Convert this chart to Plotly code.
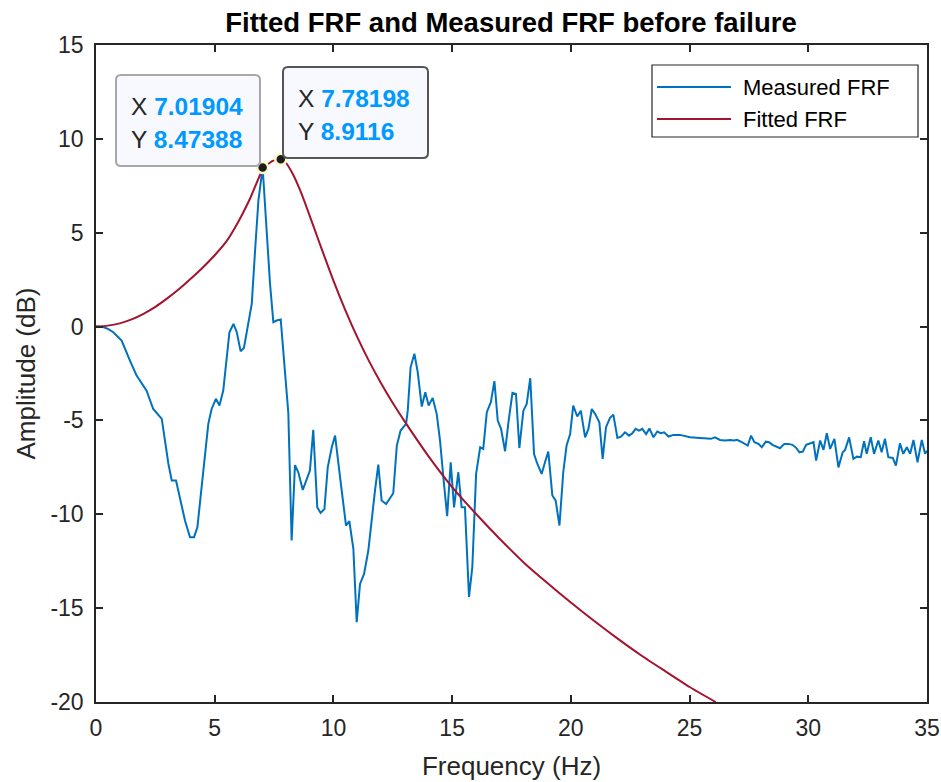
import plotly.graph_objects as go

# Measured FRF (frequency in Hz, amplitude in dB)
freq_measured = [
    0.0, 0.3, 0.5, 0.73, 1.08, 1.25, 1.43, 1.71, 1.9, 2.13, 2.41, 2.77, 3.05, 3.19, 3.37,
    3.55, 3.75, 3.96, 4.13, 4.27, 4.45, 4.73, 4.87, 5.05, 5.2, 5.36, 5.62, 5.79, 5.93,
    6.09, 6.23, 6.42, 6.56, 6.7, 6.84, 7.01904, 7.19, 7.33, 7.47, 7.61, 7.78, 7.96, 8.1,
    8.24, 8.38, 8.52, 8.71, 9.01, 9.15, 9.32, 9.46, 9.62, 9.76, 9.93, 10.07, 10.28,
    10.53, 10.67, 10.84, 10.98, 11.12, 11.29, 11.47, 11.75, 11.89, 12.03, 12.22, 12.52,
    12.67, 12.83, 13.06, 13.13, 13.25, 13.41, 13.55, 13.72, 13.87, 14.01, 14.18, 14.35,
    14.49, 14.63, 14.79, 14.94, 15.08, 15.26, 15.4, 15.54, 15.71, 15.85, 16.01, 16.18,
    16.31, 16.46, 16.63, 16.78, 16.92, 17.06, 17.23, 17.38, 17.54, 17.69, 17.83, 18.0,
    18.14, 18.29, 18.45, 18.59, 18.77, 18.91, 19.05, 19.22, 19.36, 19.52, 19.68, 19.82,
    19.97, 20.1, 20.27, 20.42, 20.6, 20.74, 20.88, 21.02, 21.2, 21.34, 21.48, 21.65,
    21.79, 21.96, 22.11, 22.28, 22.45, 22.59, 22.73, 22.87, 23.01, 23.17, 23.31, 23.48,
    23.64, 23.79, 23.93, 24.11, 24.32, 24.6, 25.02, 25.44, 25.72, 25.9, 26.07, 26.28,
    26.5, 26.71, 26.87, 27.0, 27.2, 27.45, 27.59, 27.73, 27.9, 28.04, 28.21, 28.35,
    28.49, 28.67, 28.81, 28.99, 29.16, 29.33, 29.49, 29.63, 29.77, 29.91, 30.08, 30.22,
    30.33, 30.5, 30.64, 30.78, 30.92, 31.1, 31.27, 31.45, 31.55, 31.72, 31.9, 32.05,
    32.21, 32.35, 32.46, 32.63, 32.77, 32.95, 33.09, 33.23, 33.37, 33.56, 33.69, 33.86,
    34.0, 34.15, 34.29, 34.43, 34.6, 34.78, 34.92, 35.0,
]
amp_measured = [
    0.0, -0.02, -0.12, -0.3, -0.75, -1.3, -1.81, -2.61, -2.95, -3.41, -4.39, -4.92, -7.32,
    -8.2, -8.2, -9.3, -10.34, -11.22, -11.22, -10.69, -8.38, -5.18, -4.39, -3.85, -4.21,
    -3.41, -0.3, 0.14, -0.3, -1.31, -1.14, 0.14, 1.21, 4.05, 6.71, 8.47388, 4.94, 2.27,
    0.23, 0.32, 0.38, -2.17, -4.6, -11.4, -7.38, -7.76, -8.7, -7.67, -5.5, -9.63, -9.93,
    -9.72, -7.5, -6.43, -5.81, -8.03, -10.6, -10.37, -11.84, -15.75, -13.71, -13.18,
    -11.93, -8.74, -7.35, -9.27, -9.45, -8.88, -6.34, -5.54, -5.18, -4.48, -2.17, -1.45,
    -2.43, -4.26, -3.5, -4.21, -3.8, -4.65, -6.07, -8.03, -10.1, -7.23, -9.63, -7.76,
    -9.63, -9.63, -14.4, -12.82, -7.85, -6.43, -6.52, -4.56, -4.03, -2.91, -5.01, -5.45,
    -6.64, -5.01, -3.53, -3.59, -6.47, -4.48, -4.12, -2.75, -6.79, -7.32, -7.85, -7.23,
    -6.66, -9.0, -9.27, -10.6, -7.76, -6.34, -5.72, -4.21, -4.79, -4.48, -5.9, -5.45,
    -4.39, -4.65, -5.1, -7.05, -5.36, -4.86, -4.69, -5.93, -5.86, -5.63, -5.81, -5.68,
    -5.45, -5.54, -5.45, -5.73, -5.43, -5.9, -5.59, -5.68, -5.63, -5.86, -5.77, -5.77,
    -5.9, -5.93, -5.98, -5.98, -5.9, -6.04, -6.07, -6.04, -6.07, -6.03, -6.16, -6.34,
    -5.81, -6.16, -6.25, -6.43, -6.13, -6.16, -6.3, -6.38, -6.48, -6.25, -6.25, -6.3,
    -6.46, -6.7, -6.66, -6.3, -6.2, -6.16, -7.14, -6.07, -6.57, -5.68, -6.52, -5.98,
    -7.5, -6.7, -6.57, -5.9, -7.05, -6.93, -6.96, -6.11, -6.78, -5.9, -6.78, -6.07,
    -6.7, -5.98, -6.96, -7.0, -7.41, -6.22, -6.78, -6.43, -6.78, -6.04, -7.23, -6.04,
    -6.78, -6.61,
]

# Fitted FRF
freq_fitted = [
    0.0, 0.5, 1.0, 1.5, 2.0, 2.5, 3.0, 3.5, 4.0, 4.5, 5.0, 5.5, 6.0, 6.5, 7.02, 7.4,
    7.78198, 8.0, 8.3, 8.6, 8.9, 9.2, 9.5, 10.0, 10.5, 11.0, 11.5, 12.0, 12.5, 13.0,
    14.0, 15.0, 16.0, 17.0, 18.0, 19.0, 20.0, 21.0, 22.0, 23.0, 24.0, 25.0, 26.1,
]
amp_fitted = [
    0.0, 0.05, 0.17, 0.38, 0.68, 1.05, 1.5, 2.0, 2.56, 3.15, 3.8, 4.55, 5.6, 6.85, 8.35,
    8.8, 8.9116, 8.72, 8.1, 7.25, 6.25, 5.2, 4.15, 2.45, 0.88, -0.55, -1.84, -3.0, -4.07,
    -5.05, -6.9, -8.55, -9.97, -11.3, -12.55, -13.65, -14.7, -15.7, -16.65, -17.55,
    -18.38, -19.2, -20.0,
]

# Data tips: measured peak and fitted peak
tip_freq = [7.01904, 7.78198]
tip_amp = [8.47388, 8.9116]

# Tick values and labels (plain hyphen for negatives)
x_ticks = [0, 5, 10, 15, 20, 25, 30, 35]
x_tick_labels = ["0", "5", "10", "15", "20", "25", "30", "35"]
y_ticks = [-20, -15, -10, -5, 0, 5, 10, 15]
y_tick_labels = ["-20", "-15", "-10", "-5", "0", "5", "10", "15"]

BLUE = "#0072BD"
RED = "#A2142F"
AXIS = "#262626"
TIP_VALUE = "#0099FF"
FONT = "Liberation Sans, Arial, sans-serif"

W, H = 941, 782
L, R, T, B = 96, 14, 45, 80
PW, PH = W - L - R, H - T - B


def px(x):
    return (x - L) / PW


def py(y):
    return (H - B - y) / PH


def rounded_box(x0, y0, x1, y1, r=5):
    pts = [
        ("M", [(x0 + r, y0)]), ("L", [(x1 - r, y0)]), ("Q", [(x1, y0), (x1, y0 + r)]),
        ("L", [(x1, y1 - r)]), ("Q", [(x1, y1), (x1 - r, y1)]), ("L", [(x0 + r, y1)]),
        ("Q", [(x0, y1), (x0, y1 - r)]), ("L", [(x0, y0 + r)]), ("Q", [(x0, y0), (x0 + r, y0)]),
    ]
    parts = []
    for cmd, coords in pts:
        parts.append(cmd + " ".join(f"{px(a):.5f},{py(b):.5f}" for a, b in coords))
    return " ".join(parts) + " Z"


fig = go.Figure()
fig.add_trace(go.Scatter(
    x=freq_measured, y=amp_measured, mode="lines", name="Measured FRF",
    line=dict(color=BLUE, width=2), showlegend=False,
))
fig.add_trace(go.Scatter(
    x=freq_fitted, y=amp_fitted, mode="lines", name="Fitted FRF",
    line=dict(color=RED, width=2, shape="spline", smoothing=0.6), showlegend=False,
))
fig.add_trace(go.Scatter(
    x=tip_freq, y=tip_amp, mode="markers", showlegend=False, hoverinfo="skip",
    marker=dict(color="#1c1c1c", size=11, line=dict(color="#FFF8C8", width=2.5)),
))

shapes = []
annotations = []

# Data tip boxes
tips = [
    dict(box=(116, 75, 260, 166), border="#A8A8A8", tx=129, ty=(106, 139)),
    dict(box=(283, 67, 428, 158), border="#555555", tx=296, ty=(98, 131)),
]
for tip, fx, fy in zip(tips, tip_freq, tip_amp):
    x0, y0, x1, y1 = tip["box"]
    shapes.append(dict(type="path", xref="paper", yref="paper", path=rounded_box(x0, y0, x1, y1),
                       fillcolor="#F8F8FF", line=dict(color=tip["border"], width=2), layer="above"))
    for label, val, yy in (("X", f"{fx:g}", tip["ty"][0]), ("Y", f"{fy:g}", tip["ty"][1])):
        annotations.append(dict(
            xref="paper", yref="paper", x=px(tip["tx"]), y=py(yy), xanchor="left", yanchor="middle",
            showarrow=False, font=dict(family=FONT, size=24.5, color=AXIS),
            text=f"{label} <b><span style='color:{TIP_VALUE}'>{val}</span></b>",
        ))

# Legend
shapes.append(dict(type="rect", xref="paper", yref="paper", x0=px(652), x1=px(918), y0=py(65), y1=py(137),
                   fillcolor="white", line=dict(color=AXIS, width=1.2), layer="above"))
for name, color, yy in (("Measured FRF", BLUE, 87), ("Fitted FRF", RED, 119)):
    shapes.append(dict(type="line", xref="paper", yref="paper", x0=px(657), x1=px(731), y0=py(yy), y1=py(yy),
                       line=dict(color=color, width=2), layer="above"))
    annotations.append(dict(xref="paper", yref="paper", x=px(741), y=py(yy), xanchor="left", yanchor="middle",
                            showarrow=False, text=name, font=dict(family=FONT, size=22, color="black")))

axis_common = dict(
    showgrid=False, zeroline=False, showline=True, linecolor=AXIS, linewidth=1.5,
    mirror="allticks", ticks="inside", ticklen=7, tickwidth=1.5, tickcolor=AXIS,
    tickfont=dict(family=FONT, size=23, color=AXIS), automargin=False,
)

fig.update_layout(
    width=W, height=H, margin=dict(l=L, r=R, t=T, b=B, autoexpand=False),
    paper_bgcolor="white", plot_bgcolor="white",
    font=dict(family=FONT, color=AXIS),
    title=dict(text="<b>Fitted FRF and Measured FRF before failure</b>", xref="container", x=511 / W,
               xanchor="center", y=1 - 22 / H, yanchor="middle", automargin=False,
               font=dict(family=FONT, size=27.5, color="black")),
    xaxis=dict(range=[0, 35], tickvals=x_ticks, ticktext=x_tick_labels, ticklabelstandoff=5,
               title=dict(text="Frequency (Hz)", font=dict(family=FONT, size=26, color=AXIS), standoff=16),
               **axis_common),
    yaxis=dict(range=[-20, 15], tickvals=y_ticks, ticktext=y_tick_labels, ticklabelstandoff=6,
               title=dict(text="Amplitude (dB)", font=dict(family=FONT, size=26, color=AXIS), standoff=7),
               **axis_common),
    shapes=shapes, annotations=annotations,
)

fig.write_html("out.html")
